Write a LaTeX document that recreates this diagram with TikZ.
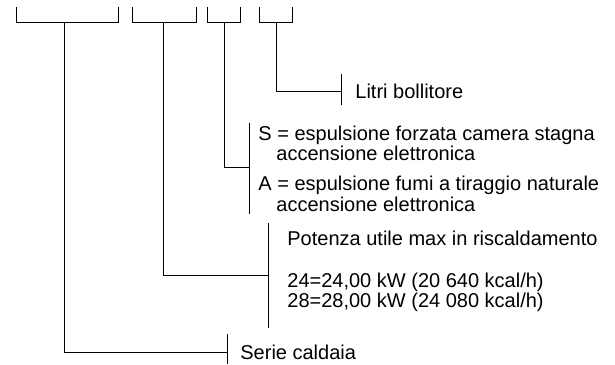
\documentclass[tikz,border=0pt]{standalone}
\usepackage{fontspec}
\setmainfont{Liberation Sans}
\begin{document}
\begin{tikzpicture}[x=1pt,y=-1pt,line width=0.8pt,
  lbl/.style={anchor=west,inner sep=0pt,font=\fontsize{20}{20}\selectfont}]
\useasboundingbox (0,0) rectangle (615,364);
% code groups
\draw (16,7) |- (118,22) -- (118,7);
\draw (132,7) |- (196,22) -- (196,7);
\draw (207,7) |- (240,22) -- (240,7);
\draw (259,7) |- (292,22) -- (292,7);
\coordinate (g1) at (64,22);
\coordinate (g2) at (163,22);
\coordinate (g3) at (224,22);
\coordinate (g4) at (276,22);
% ticks
\coordinate (t4) at (341,91);
\coordinate (t3) at (249,167);
\coordinate (t2) at (268,275);
\coordinate (t1) at (227,352);
\draw (t4) ++(0,-17) -- ++(0,31);
\draw (t3) ++(0,-44) -- ++(0,91);
\draw (t2) ++(0,-52) -- ++(0,105);
\draw (t1) ++(0,-18) -- ++(0,30);
\draw (g4) |- (t4);
\draw (g3) |- (t3);
\draw (g2) |- (t2);
\draw (g1) |- (t1);
% texts
\node[lbl] (litri) at (355,91) {Litri bollitore};
\node[lbl] (tipoS) at (258,135) {S = espulsione forzata camera stagna};
\node[lbl] (accS) at (276,153) {accensione elettronica};
\node[lbl] (tipoA) at (258,185) {A = espulsione fumi a tiraggio naturale};
\node[lbl] (accA) at (276,204) {accensione elettronica};
\node[lbl] (potenza) at (287,238) {Potenza utile max in riscaldamento};
\node[lbl] (kw24) at (287,282) {24=24,00 kW (20 640 kcal/h)};
\node[lbl] (kw28) at (287,302) {28=28,00 kW (24 080 kcal/h)};
\node[lbl] (serie) at (240,352) {Serie caldaia};
\end{tikzpicture}
\end{document}
